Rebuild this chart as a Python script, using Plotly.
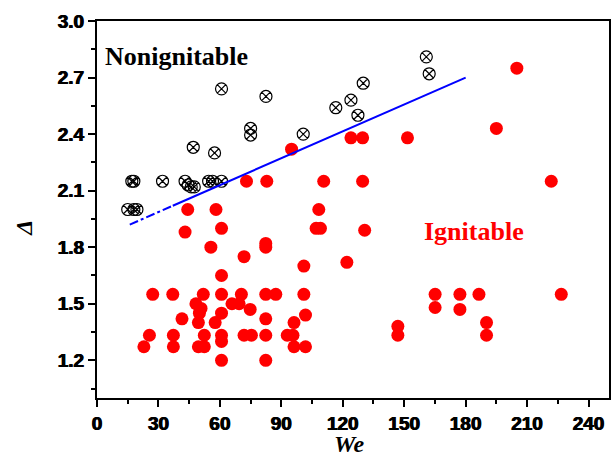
import plotly.graph_objects as go

# Nonignitable droplets (crossed open circles)
non_we = [15, 18, 19.5, 18, 17, 32, 43, 44.5, 46, 47.5, 54.5, 56.4, 60.8,
          47, 57.4, 60.8, 75, 75, 82.5, 100.7, 116.6, 124, 127.4, 130,
          160.8, 162.2]
non_delta = [2.0, 2.0, 2.0, 2.15, 2.15, 2.15, 2.15, 2.13, 2.12, 2.12, 2.15, 2.15, 2.15,
             2.33, 2.30, 2.64, 2.43, 2.395, 2.60, 2.40, 2.54, 2.58, 2.50, 2.67,
             2.81, 2.72]

# Ignitable droplets (filled red circles)
ign_we = [95, 124, 129.7, 151.6, 82.9, 110.7, 129.7, 108.3, 73.0, 44.3, 58.1,
          205, 195, 221.8, 43, 60.8, 55.6, 82.4, 82.4, 71.8, 60.8,
          27.2, 37.0, 51.9, 60.8, 70.5, 82.4, 87.3, 101.0, 165.1, 177.2, 186.5, 226.7,
          48.3, 50.8, 65.9, 69.4, 74.8, 60.8, 50.0, 41.5, 82.4, 49.5, 57.7, 96.2,
          101.8, 165.1, 177.2,
          25.6, 37.3, 52.4, 60.8, 71.8, 75.4, 82.4, 92.9, 95.7, 146.9, 190.2,
          60.8, 22.9, 37.3, 49.5, 52.4, 96.2, 101.8, 60.8, 82.4,
          146.9, 190.2, 130.7, 107, 109.1, 122, 101]
ign_delta = [2.32, 2.38, 2.38, 2.38, 2.15, 2.15, 2.15, 2.0, 2.15, 2.0, 2.0,
             2.75, 2.43, 2.15, 1.88, 1.90, 1.80, 1.82, 1.80, 1.75, 1.65,
             1.55, 1.55, 1.55, 1.55, 1.55, 1.55, 1.55, 1.55, 1.55, 1.55, 1.55, 1.55,
             1.50, 1.475, 1.50, 1.50, 1.47, 1.45, 1.45, 1.42, 1.42, 1.40, 1.40, 1.40,
             1.44, 1.48, 1.47,
             1.333, 1.333, 1.333, 1.333, 1.333, 1.333, 1.333, 1.333, 1.333, 1.333, 1.333,
             1.30, 1.272, 1.272, 1.272, 1.272, 1.272, 1.272, 1.20, 1.20,
             1.38, 1.40, 1.89, 1.90, 1.90, 1.72, 1.70]

# Boundary line: extrapolated part (dash-dot) and fitted part (solid)
ext_we = [16, 37]
ext_delta = [1.92, 2.02]
fit_we = [37, 180]
fit_delta = [2.02, 2.70]

x_ticks = [0, 30, 60, 90, 120, 150, 180, 210, 240]
y_ticks = [1.2, 1.5, 1.8, 2.1, 2.4, 2.7, 3.0]

fig = go.Figure()

fig.add_trace(go.Scatter(
    x=ign_we, y=ign_delta, mode="markers",
    marker=dict(symbol="circle", size=13, color="#ff0000", line=dict(width=0)),
    showlegend=False))

fig.add_trace(go.Scatter(
    x=non_we, y=non_delta, mode="markers",
    marker=dict(symbol="circle-x-open", size=12, color="black", line=dict(width=1.2)),
    showlegend=False))

fig.add_trace(go.Scatter(
    x=ext_we, y=ext_delta, mode="lines",
    line=dict(color="#0000ff", width=2, dash="dashdot"), showlegend=False))

fig.add_trace(go.Scatter(
    x=fit_we, y=fit_delta, mode="lines",
    line=dict(color="#0000ff", width=2), showlegend=False))

# heavy sans-serif tick labels
tick_font = dict(family="Liberation Sans, Arial, sans-serif", size=19, color="black",
                 weight="bold", shadow="0.5px 0 0 black, -0.5px 0 0 black")

fig.update_xaxes(
    range=[0, 250], tickvals=x_ticks, ticktext=[f"<b>{v}</b>" for v in x_ticks],
    ticks="outside", ticklen=7, tickwidth=1.5, tickcolor="black",
    minor=dict(dtick=15, tick0=0, ticks="outside", ticklen=4, tickwidth=1.5, tickcolor="black"),
    showline=True, linecolor="black", linewidth=2, mirror=True,
    showgrid=False, zeroline=False, tickfont=tick_font)

fig.update_yaxes(
    range=[1.0, 3.0], tickvals=y_ticks, ticktext=[f"<b>{v:.1f}</b>" for v in y_ticks],
    ticks="outside", ticklen=7, tickwidth=1.5, tickcolor="black",
    minor=dict(dtick=0.15, tick0=0.9, ticks="outside", ticklen=4, tickwidth=1.5, tickcolor="black"),
    showline=True, linecolor="black", linewidth=2, mirror=True,
    showgrid=False, zeroline=False, tickfont=tick_font)

serif = "Liberation Serif, Times New Roman, serif"

fig.add_annotation(x=39, y=2.814, xref="x", yref="y", text="<b>Nonignitable</b>",
                   showarrow=False, font=dict(family=serif, size=26, color="black"))
fig.add_annotation(x=184.2, y=1.882, xref="x", yref="y", text="<b>Ignitable</b>",
                   showarrow=False, font=dict(family=serif, size=26, color="#ff0000"))

fig.add_annotation(x=0.494, y=-0.122, xref="paper", yref="paper", text="<b><i>We</i></b>",
                   showarrow=False, xanchor="center", yanchor="middle",
                   font=dict(family=serif, size=24, color="black"))
fig.add_annotation(x=-0.143, y=0.451, xref="paper", yref="paper", text="<b><i>Δ</i></b>",
                   showarrow=False, xanchor="center", yanchor="middle", textangle=-90,
                   font=dict(family=serif, size=24, color="black"))

fig.update_layout(
    width=614, height=457,
    margin=dict(l=97, r=3, t=21, b=59),
    plot_bgcolor="white", paper_bgcolor="white")

fig.write_html("out.html")
